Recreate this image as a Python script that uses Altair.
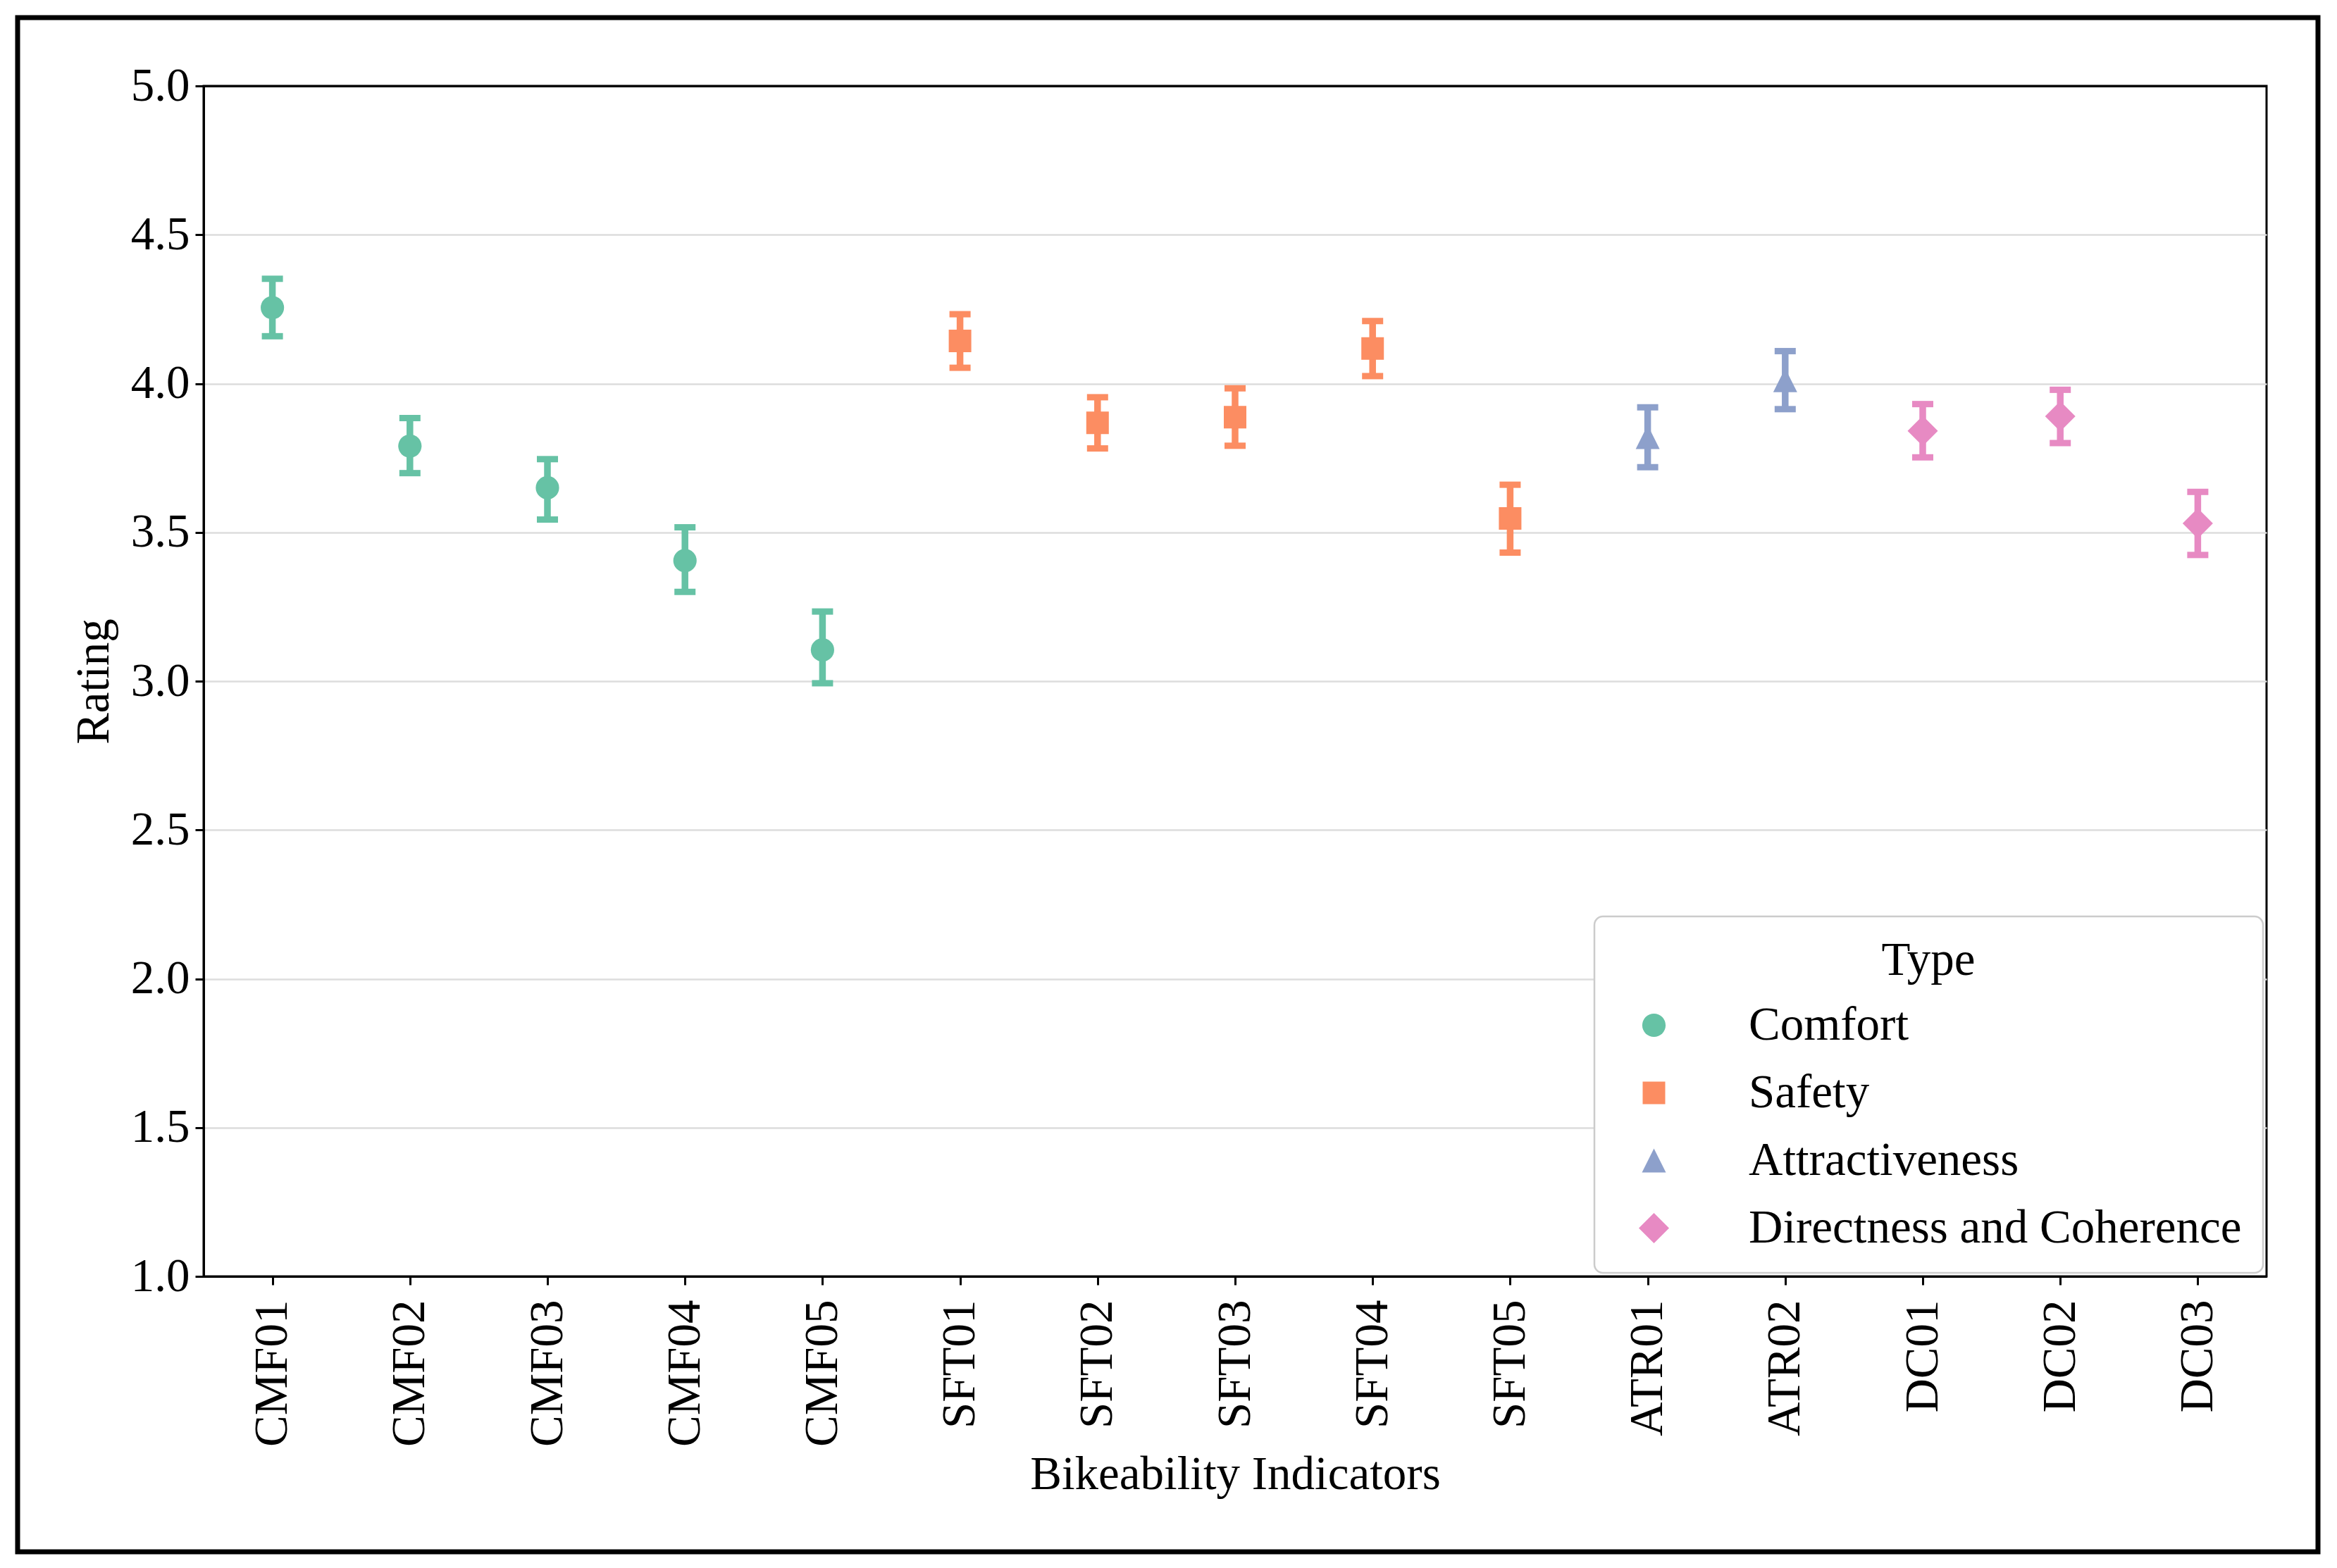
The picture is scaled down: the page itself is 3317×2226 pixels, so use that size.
import altair as alt
import pandas as pd

indicators = ["CMF01", "CMF02", "CMF03", "CMF04", "CMF05",
              "SFT01", "SFT02", "SFT03", "SFT04", "SFT05",
              "ATR01", "ATR02", "DC01", "DC02", "DC03"]
types = (["Comfort"] * 5 + ["Safety"] * 5 + ["Attractiveness"] * 2
         + ["Directness and Coherence"] * 3)
means = [4.255, 3.790, 3.650, 3.405, 3.105,
         4.143, 3.868, 3.887, 4.118, 3.547,
         3.820, 4.011, 3.841, 3.890, 3.530]
lower = [4.159, 3.699, 3.543, 3.300, 2.993,
         4.053, 3.782, 3.791, 4.025, 3.432,
         3.719, 3.914, 3.752, 3.800, 3.424]
upper = [4.352, 3.884, 3.746, 3.517, 3.234,
         4.233, 3.954, 3.984, 4.210, 3.660,
         3.920, 4.109, 3.931, 3.979, 3.636]

type_order = ["Comfort", "Safety", "Attractiveness", "Directness and Coherence"]
type_colors = ["#66c2a5", "#fc8d62", "#8da0cb", "#e78ac3"]
# matplotlib-like markers: circle, square, isosceles triangle, diamond
type_shapes = ["circle", "square", "M0,-1L1,1L-1,1Z", "diamond"]
type_sizes = [1100, 1024, 1156, 1850]
y_ticks = [1.0, 1.5, 2.0, 2.5, 3.0, 3.5, 4.0, 4.5, 5.0]

df = pd.DataFrame({"Indicator": indicators, "Type": types, "Mean": means,
                   "Lower": lower, "Upper": upper})

FONT = "Liberation Serif"
FS = 67

x_enc = alt.X("Indicator:N", sort=indicators,
              scale=alt.Scale(type="point", padding=0.5),
              axis=alt.Axis(title="Bikeability Indicators", labelAngle=270,
                            grid=False, labelPadding=21, labelLimit=0,
                            titleBaseline="middle", titleY=281))
y_scale = alt.Scale(domain=[1, 5], nice=False, zero=False)
y_axis = alt.Axis(title="Rating", values=y_ticks, format=".1f", grid=True,
                  titlePadding=18, labelPadding=8,
                  gridColor={"condition": {"test": "datum.value <= 1 || datum.value >= 5",
                                           "value": "black"},
                             "value": "#dddddd"},
                  gridWidth={"condition": {"test": "datum.value <= 1 || datum.value >= 5",
                                           "value": 3},
                             "value": 2.5})
color_scale = alt.Scale(domain=type_order, range=type_colors)

# per-type colours for the error bars, without a scale (so no extra legend)
color_conditions = [{"test": f"datum.Type === '{t}'", "value": c}
                    for t, c in zip(type_order, type_colors)]

legend = alt.Legend(title="Type", orient="bottom-right", offset=5)

base = alt.Chart(df)

rules = base.mark_rule(strokeWidth=9.5, opacity=1).encode(
    x=x_enc,
    y=alt.Y("Lower:Q", scale=y_scale, axis=y_axis),
    y2="Upper:Q",
    stroke=alt.StrokeValue(value="black", condition=color_conditions),
)
caps_up = base.mark_tick(thickness=9, size=30, opacity=1).encode(
    x=x_enc,
    y=alt.Y("Upper:Q", scale=y_scale, axis=y_axis),
    fill=alt.FillValue(value="black", condition=color_conditions),
)
caps_lo = base.mark_tick(thickness=9, size=30, opacity=1).encode(
    x=x_enc,
    y=alt.Y("Lower:Q", scale=y_scale, axis=y_axis),
    fill=alt.FillValue(value="black", condition=color_conditions),
)
points = base.mark_point(filled=True, opacity=1, strokeWidth=0).encode(
    x=x_enc,
    y=alt.Y("Mean:Q", scale=y_scale, axis=y_axis),
    color=alt.Color("Type:N", scale=color_scale, sort=type_order, legend=legend),
    shape=alt.Shape("Type:N", scale=alt.Scale(domain=type_order, range=type_shapes),
                    sort=type_order, legend=legend),
    size=alt.Size("Type:N", scale=alt.Scale(type="ordinal", domain=type_order,
                                            range=type_sizes),
                  sort=type_order, legend=legend),
)

frame = alt.Chart(pd.DataFrame({"f": [0]})).mark_rect(
    fillOpacity=0, stroke="black", strokeWidth=7, clip=False
).encode(x=alt.value(-264), x2=alt.value(3001), y=alt.value(-97), y2=alt.value(2081))

chart = alt.layer(rules, caps_up, caps_lo, points, frame).properties(
    width=2928, height=1690,
    autosize=alt.AutoSizeParams(type="none"),
    padding={"left": 281, "top": 114, "right": 92, "bottom": 400},
    background="white",
).configure_view(
    stroke="black", strokeWidth=3
).configure_axis(
    labelFont=FONT, titleFont=FONT, labelFontSize=FS, titleFontSize=FS,
    titleFontWeight="normal", labelColor="black", titleColor="black",
    domainColor="black", domainWidth=3, tickColor="black", tickWidth=3,
    tickSize=12,
).configure_legend(
    fillColor="white", strokeColor="#cccccc", strokeWidth=2.5,
    cornerRadius=12, padding=30, titleAnchor="middle",
    titleFontSize=FS, labelFontSize=FS, titleFont=FONT,
    labelFont=FONT, titleFontWeight="normal",
    titleColor="black", labelColor="black",
    symbolOffset=21, labelOffset=101, rowPadding=28,
    titlePadding=24, symbolOpacity=1, symbolStrokeWidth=0,
    labelLimit=0,
)

chart.save("out.html", embed_options={"renderer": "svg", "actions": False})
